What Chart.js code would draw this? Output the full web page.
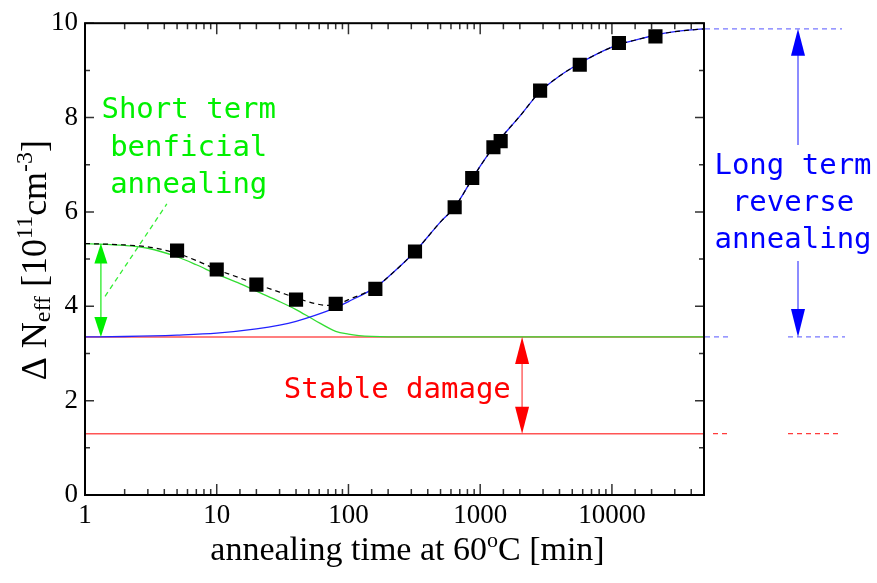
<!DOCTYPE html>
<html>
<head>
<meta charset="utf-8">
<script src="https://cdn.jsdelivr.net/npm/chart.js@4.4.1/dist/chart.umd.min.js"></script>
<style>
    html, body { margin: 0; padding: 0; background: #fff; }
    #wrap { width: 877px; height: 583px; }
</style>
</head>
<body>
<div id="wrap"><canvas id="annealingChart" width="877" height="583"></canvas></div>
<script>
// Mediciones (cuadrados negros)
const measTime = [5, 10, 20, 40, 80, 160, 320, 640, 870, 1260, 1430, 2850, 5700, 11300, 21400];
const measNeff = [5.18, 4.78, 4.46, 4.14, 4.05, 4.37, 5.16, 6.10, 6.72, 7.37, 7.50, 8.57, 9.12, 9.58, 9.72];

// Recocido beneficioso de corto plazo (verde)
const shortTime = [1, 2, 3, 5, 7, 10, 15, 20, 30, 40, 55, 80, 100, 120, 150, 200, 50000];
const shortNeff = [5.33, 5.29, 5.23, 5.05, 4.88, 4.68, 4.48, 4.32, 4.10, 3.93, 3.71, 3.47, 3.41, 3.38, 3.36, 3.35, 3.35];

// Recocido inverso de largo plazo (azul)
const longTime = [1, 2, 5, 10, 20, 30, 40, 55, 80, 100, 160, 200, 320, 500, 640, 870, 1000, 1300, 2000, 2850, 4000, 5700, 8000, 11300, 16000, 21400, 30000, 50000];
const longNeff = [3.35, 3.36, 3.39, 3.43, 3.52, 3.60, 3.68, 3.80, 3.97, 4.10, 4.40, 4.62, 5.16, 5.79, 6.10, 6.70, 6.97, 7.42, 8.03, 8.55, 8.88, 9.15, 9.37, 9.55, 9.66, 9.75, 9.82, 9.88];

// Ajuste total (negro discontinuo)
const sumTime = [1, 2, 3, 5, 7, 10, 15, 20, 30, 40, 55, 70, 80, 100, 160, 200, 320, 500, 640, 870, 1000, 1300, 2000, 2850, 4000, 5700, 8000, 11300, 16000, 21400, 30000, 50000];
const sumNeff = [5.33, 5.30, 5.26, 5.12, 4.97, 4.78, 4.60, 4.47, 4.30, 4.18, 4.06, 4.02, 4.03, 4.14, 4.40, 4.62, 5.16, 5.79, 6.10, 6.70, 6.97, 7.42, 8.03, 8.55, 8.88, 9.15, 9.37, 9.55, 9.66, 9.75, 9.82, 9.88];

// Daño estable (rojo)
const stableTime = [1, 50000];
const stableTop = [3.35, 3.35];
const stableBottom = [1.3, 1.3];
const saturation = 9.88;

// Textos
const shortLabel = ['Short term', 'benficial', 'annealing'];
const longLabel = ['Long term', 'reverse', 'annealing'];
const stableLabel = 'Stable damage';

const SERIF = '"Liberation Serif", "Times New Roman", serif';
const MONO = '"DejaVu Sans Mono", monospace';

const toPoints = (xs, ys) => xs.map((x, i) => ({ x: x, y: ys[i] }));
const isDecade = v => Math.abs(Math.log10(v) - Math.round(Math.log10(v))) < 1e-6;

// Punta de flecha: dir = 1 apunta hacia abajo, -1 hacia arriba
function arrowHead(ctx, x, tipY, dir, len, half, color) {
    const baseY = tipY - dir * len;
    ctx.fillStyle = color;
    ctx.beginPath();
    ctx.moveTo(x, tipY);
    ctx.lineTo(x - half, baseY);
    ctx.lineTo(x + half, baseY);
    ctx.closePath();
    ctx.fill();
}

function vLine(ctx, x, y1, y2, color, width) {
    ctx.strokeStyle = color;
    ctx.lineWidth = width;
    ctx.beginPath();
    ctx.moveTo(x, y1);
    ctx.lineTo(x, y2);
    ctx.stroke();
}

function hDash(ctx, x1, x2, y, color) {
    ctx.strokeStyle = color;
    ctx.lineWidth = 1.3;
    ctx.setLineDash([5, 4]);
    ctx.beginPath();
    ctx.moveTo(x1, y);
    ctx.lineTo(x2, y);
    ctx.stroke();
    ctx.setLineDash([]);
}

function drawLines(ctx, lines, cx, cy, step, color) {
    ctx.fillStyle = color;
    ctx.textAlign = 'center';
    ctx.textBaseline = 'middle';
    lines.forEach((t, i) => ctx.fillText(t, cx, cy + (i - 1) * step));
}

// Texto con subíndices / superíndices
function richWidth(ctx, parts) {
    return parts.reduce((w, p) => {
        ctx.font = p.s + 'px ' + SERIF;
        return w + ctx.measureText(p.t).width;
    }, 0);
}
function drawRich(ctx, parts, x, y) {
    let cx = x;
    parts.forEach(p => {
        ctx.font = p.s + 'px ' + SERIF;
        ctx.fillText(p.t, cx, y + (p.dy || 0));
        cx += ctx.measureText(p.t).width;
    });
}

const yTitle = [
    { t: 'Δ N', s: 36 }, { t: 'eff', s: 24, dy: 4 }, { t: ' [10', s: 36 },
    { t: '11', s: 24, dy: -14 }, { t: 'cm', s: 36 }, { t: '-3', s: 24, dy: -14 }, { t: ']', s: 36 }
];
const xTitle = [{ t: 'annealing time at 60', s: 34 }, { t: 'o', s: 22, dy: -13 }, { t: 'C [min]', s: 34 }];

// Marco, marcas internas y títulos de ejes
const framePlugin = {
    id: 'frame',
    afterDraw(chart) {
        const { ctx, chartArea: a, scales: { x, y } } = chart;
        ctx.save();
        ctx.strokeStyle = '#333';
        ctx.lineWidth = 1.5;
        ctx.beginPath();
        x.ticks.forEach(t => {
            const px = x.getPixelForValue(t.value);
            const len = isDecade(t.value) ? 11 : 6;
            ctx.moveTo(px, a.bottom); ctx.lineTo(px, a.bottom - len);
            ctx.moveTo(px, a.top); ctx.lineTo(px, a.top + len);
        });
        y.ticks.forEach(t => {
            const py = y.getPixelForValue(t.value);
            const len = t.value % 2 === 0 ? 9 : 5;
            ctx.moveTo(a.left, py); ctx.lineTo(a.left + len, py);
            ctx.moveTo(a.right, py); ctx.lineTo(a.right - len, py);
        });
        ctx.stroke();
        ctx.strokeStyle = '#000';
        ctx.lineWidth = 2;
        ctx.strokeRect(a.left, a.top, a.right - a.left, a.bottom - a.top);

        ctx.fillStyle = '#000';
        ctx.textAlign = 'left';
        ctx.textBaseline = 'alphabetic';
        const wx = richWidth(ctx, xTitle);
        drawRich(ctx, xTitle, (a.left + a.right) / 2 + 13 - wx / 2, 560);

        const wy = richWidth(ctx, yTitle);
        ctx.translate(46, (a.top + a.bottom) / 2 + 1);
        ctx.rotate(-Math.PI / 2);
        drawRich(ctx, yTitle, -wy / 2, 0);
        ctx.restore();
    }
};

// Flechas y textos explicativos
const annotationPlugin = {
    id: 'annotations',
    afterDatasetsDraw(chart) {
        const { ctx, chartArea: a, scales: { x, y } } = chart;
        const yTop = y.getPixelForValue(stableTop[0]);
        const yBot = y.getPixelForValue(stableBottom[0]);
        const ySat = y.getPixelForValue(saturation);
        const yStart = y.getPixelForValue(shortNeff[0]);
        ctx.save();

        // Corto plazo (verde)
        const gx = x.getPixelForValue(1.32);
        vLine(ctx, gx, yStart + 10, yTop - 10, '#44ee44', 1.5);
        arrowHead(ctx, gx, yStart, -1, 20, 6.5, '#00ee00');
        arrowHead(ctx, gx, yTop, 1, 20, 6.5, '#00ee00');
        ctx.strokeStyle = '#33ee33';
        ctx.lineWidth = 1.3;
        ctx.setLineDash([5, 4]);
        ctx.beginPath();
        ctx.moveTo(x.getPixelForValue(1.42), y.getPixelForValue(4.21));
        ctx.lineTo(x.getPixelForValue(4.18), y.getPixelForValue(6.17));
        ctx.stroke();
        ctx.setLineDash([]);
        ctx.font = '29px ' + MONO;
        drawLines(ctx, shortLabel, x.getPixelForValue(6.13), y.getPixelForValue(7.35), 37.5, '#00f000');

        // Daño estable (rojo)
        const rx = x.getPixelForValue(2080);
        vLine(ctx, rx, yTop + 10, yBot - 10, '#ff6666', 1.5);
        arrowHead(ctx, rx, yTop, -1, 27, 7, '#ff0000');
        arrowHead(ctx, rx, yBot, 1, 27, 7, '#ff0000');
        ctx.font = '29px ' + MONO;
        drawLines(ctx, [stableLabel], x.getPixelForValue(235), y.getPixelForValue(2.21), 0, '#ff0000');

        // Largo plazo (azul, fuera del área)
        hDash(ctx, a.right + 1, a.right + 138, ySat, '#7777ff');
        hDash(ctx, a.right + 1, a.right + 24, yTop, '#7777ff');
        hDash(ctx, a.right + 84, a.right + 141, yTop, '#7777ff');
        hDash(ctx, a.right + 9, a.right + 24, yBot, '#ff3b3b');
        hDash(ctx, a.right + 84, a.right + 138, yBot, '#ff3b3b');
        const bx = a.right + 94;
        const yc = y.getPixelForValue(6.17);
        vLine(ctx, bx, ySat + 10, yc - 59, '#6666ff', 1.5);
        vLine(ctx, bx, yc + 57, yTop - 10, '#6666ff', 1.5);
        arrowHead(ctx, bx, ySat, -1, 27, 7, '#0000ff');
        arrowHead(ctx, bx, yTop, 1, 28, 7, '#0000ff');
        ctx.font = '29px ' + MONO;
        drawLines(ctx, longLabel, a.right + 89, yc, 37, '#0000ff');
        ctx.restore();
    }
};

new Chart(document.getElementById('annealingChart'), {
    type: 'scatter',
    data: {
        datasets: [{
            label: 'Medición',
            data: toPoints(measTime, measNeff),
            pointStyle: 'rect',
            pointRadius: 10,
            backgroundColor: '#000',
            borderColor: '#000',
            borderWidth: 0,
            showLine: false
        }, {
            label: 'Ajuste total',
            data: toPoints(sumTime, sumNeff),
            showLine: true,
            borderColor: '#000',
            borderWidth: 1.2,
            borderDash: [5, 4],
            pointRadius: 0,
            cubicInterpolationMode: 'monotone'
        }, {
            label: 'Largo plazo',
            data: toPoints(longTime, longNeff),
            showLine: true,
            borderColor: '#2222ff',
            borderWidth: 1.3,
            pointRadius: 0,
            cubicInterpolationMode: 'monotone'
        }, {
            label: 'Corto plazo',
            data: toPoints(shortTime, shortNeff),
            showLine: true,
            borderColor: '#33dd33',
            borderWidth: 1.3,
            pointRadius: 0,
            cubicInterpolationMode: 'monotone'
        }, {
            label: 'Daño estable',
            data: toPoints(stableTime, stableTop),
            showLine: true,
            borderColor: '#ff5555',
            borderWidth: 1.5,
            pointRadius: 0
        }, {
            label: 'Daño estable inferior',
            data: toPoints(stableTime, stableBottom),
            showLine: true,
            borderColor: '#ff5555',
            borderWidth: 1.5,
            pointRadius: 0
        }]
    },
    options: {
        responsive: false,
        animation: false,
        devicePixelRatio: 1,
        layout: { padding: { left: 0, right: 173, top: 20, bottom: 0 } },
        plugins: {
            legend: { display: false },
            tooltip: { enabled: false }
        },
        scales: {
            x: {
                type: 'logarithmic',
                min: 1,
                max: 50000,
                grid: { display: false, drawTicks: false },
                border: { display: false },
                ticks: {
                    autoSkip: false,
                    maxRotation: 0,
                    padding: 5,
                    color: '#000',
                    font: { family: SERIF, size: 27 },
                    callback: v => isDecade(v) ? String(Math.round(v)) : ''
                },
                afterFit: s => { s.height = 88; }
            },
            y: {
                min: 0,
                max: 10,
                grid: { display: false, drawTicks: false },
                border: { display: false },
                ticks: {
                    stepSize: 1,
                    padding: 7,
                    color: '#000',
                    font: { family: SERIF, size: 27 },
                    callback: v => v % 2 === 0 ? String(v) : ''
                },
                afterFit: s => { s.width = 85; }
            }
        }
    },
    plugins: [framePlugin, annotationPlugin]
});
</script>
</body>
</html>
